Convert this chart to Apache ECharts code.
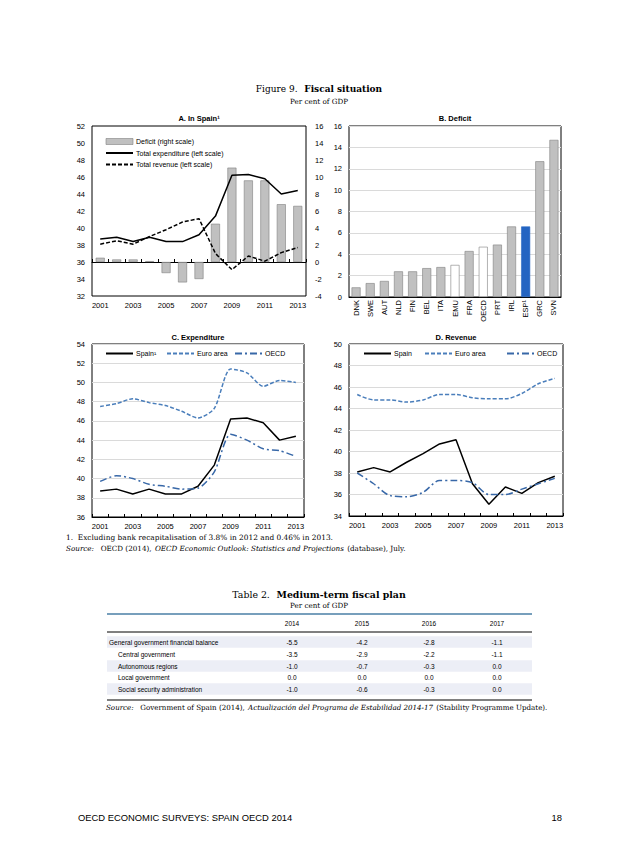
<!DOCTYPE html>
<html><head><meta charset="utf-8">
<script src="https://cdn.jsdelivr.net/npm/echarts@6/dist/echarts.min.js"></script>
<style>html,body{margin:0;padding:0;background:#fff}#c{width:638px;height:852px}</style>
</head><body><div id="c"></div>
<script>
// ---------- data ----------
const years = ['2001','2002','2003','2004','2005','2006','2007','2008','2009','2010','2011','2012','2013'];
const spainDeficit = [0.5, 0.3, 0.3, 0.1, -1.3, -2.4, -2.0, 4.5, 11.1, 9.6, 9.6, 6.8, 6.6];
const spainExpenditure = [38.7, 38.9, 38.4, 38.9, 38.4, 38.4, 39.2, 41.4, 46.2, 46.3, 45.8, 44.0, 44.4];
const spainRevenue = [38.1, 38.5, 38.1, 39.0, 39.8, 40.7, 41.1, 37.0, 35.1, 36.7, 36.1, 37.1, 37.7];
const countries = ['DNK','SWE','AUT','NLD','FIN','BEL','ITA','EMU','FRA','OECD','PRT','IRL','ESP¹','GRC','SVN'];
const countryDeficit = [0.9, 1.3, 1.5, 2.4, 2.4, 2.7, 2.8, 3.0, 4.3, 4.7, 4.9, 6.6, 6.6, 12.7, 14.7];
const euroExpenditure = [47.5, 47.8, 48.3, 47.9, 47.6, 47.0, 46.3, 47.3, 51.4, 51.0, 49.6, 50.2, 50.0];
const oecdExpenditure = [39.7, 40.3, 40.0, 39.4, 39.2, 38.9, 39.0, 40.7, 44.6, 44.0, 43.1, 42.9, 42.3];
const euroRevenue = [45.3, 44.8, 44.8, 44.6, 44.8, 45.3, 45.3, 45.0, 44.9, 44.9, 45.4, 46.3, 46.8];
const oecdRevenue = [38.0, 37.0, 35.9, 35.8, 36.2, 37.3, 37.3, 37.1, 36.0, 36.0, 36.5, 37.0, 37.5];
const tableYears = ['2014','2015','2016','2017'];
const tableRows = ['General government financial balance','Central government','Autonomous regions','Local government','Social security administration'];
const tableValues = [
  [-5.5, -4.2, -2.8, -1.1],
  [-3.5, -2.9, -2.2, -1.1],
  [-1.0, -0.7, -0.3, 0.0],
  [0.0, 0.0, 0.0, 0.0],
  [-1.0, -0.6, -0.3, 0.0]
];

// ---------- styling ----------
const SANS = 'Liberation Sans, Arial, sans-serif';
const SERIF = 'DejaVu Serif, Liberation Serif, serif';
const GREY = '#c0c0c0', GREYB = '#808080', BLUE = '#4a7ebb', BLUE2 = '#3868a8', ESPBLUE = '#2464c2';
const axisLbl = {fontSize: 7.5, fontFamily: SANS, color: '#000'};
const legendText = {fontSize: 7, fontFamily: SANS, color: '#000', padding: [0, 0, 0, -2]};

function catAxis(grid, data, extra) {
  return Object.assign({
    type: 'category', gridIndex: grid, data: data, boundaryGap: true,
    axisLine: {show: true, lineStyle: {color: '#000', width: 1}},
    axisTick: {show: true, inside: true, length: 3, interval: 0, lineStyle: {color: '#000'}},
    axisLabel: Object.assign({interval: 1, margin: 5}, axisLbl)
  }, extra || {});
}
function valAxis(grid, min, max, step, grid_lines, extra) {
  return Object.assign({
    type: 'value', gridIndex: grid, min: min, max: max, interval: step,
    axisLine: {show: false}, axisTick: {show: false},
    splitLine: {show: grid_lines, lineStyle: {color: '#dadada', width: 1}},
    axisLabel: Object.assign({margin: 7}, axisLbl)
  }, extra || {});
}
function lineS(name, data, xi, yi, color, type, smooth) {
  return {type: 'line', name: name, data: data, xAxisIndex: xi, yAxisIndex: yi,
    symbol: 'none', smooth: smooth || false, animation: false,
    lineStyle: {color: color, width: 1.5, type: type}, itemStyle: {color: color}};
}
function txt(x, y, text, font, align, rich) {
  const st = {text: text, x: 0, y: 0, font: font, fill: '#000', align: align || 'left', verticalAlign: 'middle'};
  if (rich) st.rich = rich;
  return {type: 'text', x: x, y: y, style: st, silent: true};
}
function oneLegend(name, left, top) {
  return {data: [name], left: left, top: top, itemWidth: 27, itemHeight: 8, itemGap: 0, padding: 0,
    selectedMode: false, itemStyle: {opacity: 0}, textStyle: legendText};
}

// ---------- table graphics ----------
const tbl = [];
const tLeft = 107, tRight = 532;
const colX = [292, 362, 429, 497];
const rowY = [642, 654, 666, 677.5, 689];
tbl.push({type: 'line', shape: {x1: tLeft, y1: 614, x2: tRight, y2: 614}, style: {stroke: '#4a7fa6', lineWidth: 1.5}, silent: true});
tableYears.forEach((y, i) => tbl.push(txt(colX[i], 623.5, y, '6.5px ' + SANS, 'center')));
tbl.push({type: 'line', shape: {x1: tLeft, y1: 632, x2: tRight, y2: 632}, style: {stroke: '#000', lineWidth: 1}, silent: true});
tableRows.forEach((r, i) => {
  if (i % 2 === 0) tbl.push({type: 'rect', shape: {x: tLeft, y: rowY[i] - 5.8, width: tRight - tLeft, height: 11.6}, style: {fill: '#eceef6'}, silent: true});
});
tableRows.forEach((r, i) => {
  tbl.push(txt(i === 0 ? 109 : 118, rowY[i], r, '6.5px ' + SANS, 'left'));
  tableValues[i].forEach((v, j) => tbl.push(txt(colX[j], rowY[i], v.toFixed(1), '6.5px ' + SANS, 'center')));
});
tbl.push({type: 'line', shape: {x1: tLeft, y1: 700, x2: tRight, y2: 700}, style: {stroke: '#000', lineWidth: 1}, silent: true});

const richSerif = (sz) => ({
  r: {fontSize: sz, fontFamily: SERIF, fill: '#000'},
  b: {fontSize: sz, fontFamily: SERIF, fontWeight: 'bold', fill: '#000'},
  i: {fontSize: sz, fontFamily: SERIF, fontStyle: 'italic', fill: '#000'}
});

const chart = echarts.init(document.getElementById('c'), null, {renderer: 'svg'});
chart.setOption({
  backgroundColor: '#fff',
  animation: false,
  grid: [
    {left: 92, top: 126, width: 214, height: 170, show: true, borderColor: '#000', borderWidth: 1},
    {left: 349, top: 126, width: 212, height: 171, show: true, borderColor: '#000', borderWidth: 1},
    {left: 92, top: 344, width: 212, height: 173, show: true, borderColor: '#000', borderWidth: 1},
    {left: 349, top: 344, width: 214, height: 172, show: true, borderColor: '#000', borderWidth: 1}
  ],
  xAxis: [
    catAxis(0, years),
    catAxis(1, countries, {axisTick: {show: false}, axisLabel: Object.assign({interval: 0, rotate: 90, margin: 3}, axisLbl)}),
    catAxis(2, years),
    catAxis(3, years)
  ],
  yAxis: [
    valAxis(0, 32, 52, 2, false),
    valAxis(0, -4, 16, 2, false, {position: 'right', axisLabel: Object.assign({margin: 9}, axisLbl)}),
    valAxis(1, 0, 16, 2, true),
    valAxis(2, 36, 54, 2, true),
    valAxis(3, 34, 50, 2, true)
  ],
  legend: [
    {data: [{name: 'Deficit (right scale)', icon: 'rect', itemStyle: {opacity: 1, color: GREY, borderColor: GREYB, borderWidth: 0.6}},
            'Total expenditure (left scale)', 'Total revenue (left scale)'],
      orient: 'vertical', left: 105, top: 138, itemWidth: 27, itemHeight: 6, itemGap: 4.5, padding: 0, selectedMode: false,
      itemStyle: {opacity: 0}, textStyle: legendText},
    oneLegend('Spain¹', 105, 350),
    oneLegend('Euro area', 166, 350),
    oneLegend('OECD', 234, 350),
    oneLegend('Spain', 363, 350),
    oneLegend('Euro area ', 424, 350),
    oneLegend('OECD ', 506, 350)
  ],
  series: [
    {type: 'bar', name: 'Deficit (right scale)', data: spainDeficit, xAxisIndex: 0, yAxisIndex: 1, barWidth: 9,
      itemStyle: {color: GREY, borderColor: GREYB, borderWidth: 0.6}},
    lineS('Total expenditure (left scale)', spainExpenditure, 0, 0, '#000', 'solid'),
    lineS('Total revenue (left scale)', spainRevenue, 0, 0, '#000', [4, 2]),
    {type: 'bar', name: 'Deficit by country', xAxisIndex: 1, yAxisIndex: 2, barWidth: 9,
      data: countryDeficit.map((v, i) => ({value: v, itemStyle: {
        color: countries[i] === 'ESP¹' ? ESPBLUE : (countries[i] === 'EMU' || countries[i] === 'OECD' ? '#fff' : GREY),
        borderColor: countries[i] === 'ESP¹' ? ESPBLUE : GREYB, borderWidth: 0.6}}))},
    lineS('Spain¹', spainExpenditure, 2, 3, '#000', 'solid'),
    lineS('Euro area', euroExpenditure, 2, 3, BLUE, [4, 2], 0.25),
    lineS('OECD', oecdExpenditure, 2, 3, BLUE2, [7, 3, 2, 3], 0.25),
    lineS('Spain', spainRevenue, 3, 4, '#000', 'solid'),
    lineS('Euro area ', euroRevenue, 3, 4, BLUE, [4, 2], 0.3),
    lineS('OECD ', oecdRevenue, 3, 4, BLUE2, [7, 3, 2, 3], 0.3)
  ],
  graphic: [
    txt(319, 89, '{r|Figure 9.}  {b|Fiscal situation}', '', 'center', richSerif(9)),
    txt(319, 101, 'Per cent of GDP', '7.2px ' + SERIF, 'center'),
    txt(199, 118, 'A. In Spain¹', 'bold 7.5px ' + SANS, 'center'),
    txt(455, 118, 'B. Deficit', 'bold 7.5px ' + SANS, 'center'),
    txt(198, 337, 'C. Expenditure', 'bold 7.5px ' + SANS, 'center'),
    txt(456, 337, 'D. Revenue', 'bold 7.5px ' + SANS, 'center'),
    txt(66, 537, '{r|1.  Excluding bank recapitalisation of 3.8% in 2012 and 0.46% in 2013.}', '', 'left', richSerif(7.4)),
    txt(66, 548, '{i|Source:}  {r|OECD (2014),} {i|OECD Economic Outlook: Statistics and Projections} {r|(database), July.}', '', 'left', richSerif(7.2)),
    txt(319, 594, '{r|Table 2.}  {b|Medium-term fiscal plan}', '', 'center', richSerif(9.4)),
    txt(319, 605.5, 'Per cent of GDP', '7.2px ' + SERIF, 'center'),
    ...tbl,
    txt(106, 707.5, '{i|Source:}  {r|Government of Spain (2014),} {i|Actualización del Programa de Estabilidad 2014-17} {r|(Stability Programme Update).}', '', 'left', richSerif(7.1)),
    txt(78, 817, 'OECD ECONOMIC SURVEYS: SPAIN OECD 2014', '9.4px ' + SANS, 'left'),
    txt(562, 817, '18', '9.4px ' + SANS, 'right')
  ]
});
</script>
</body></html>
